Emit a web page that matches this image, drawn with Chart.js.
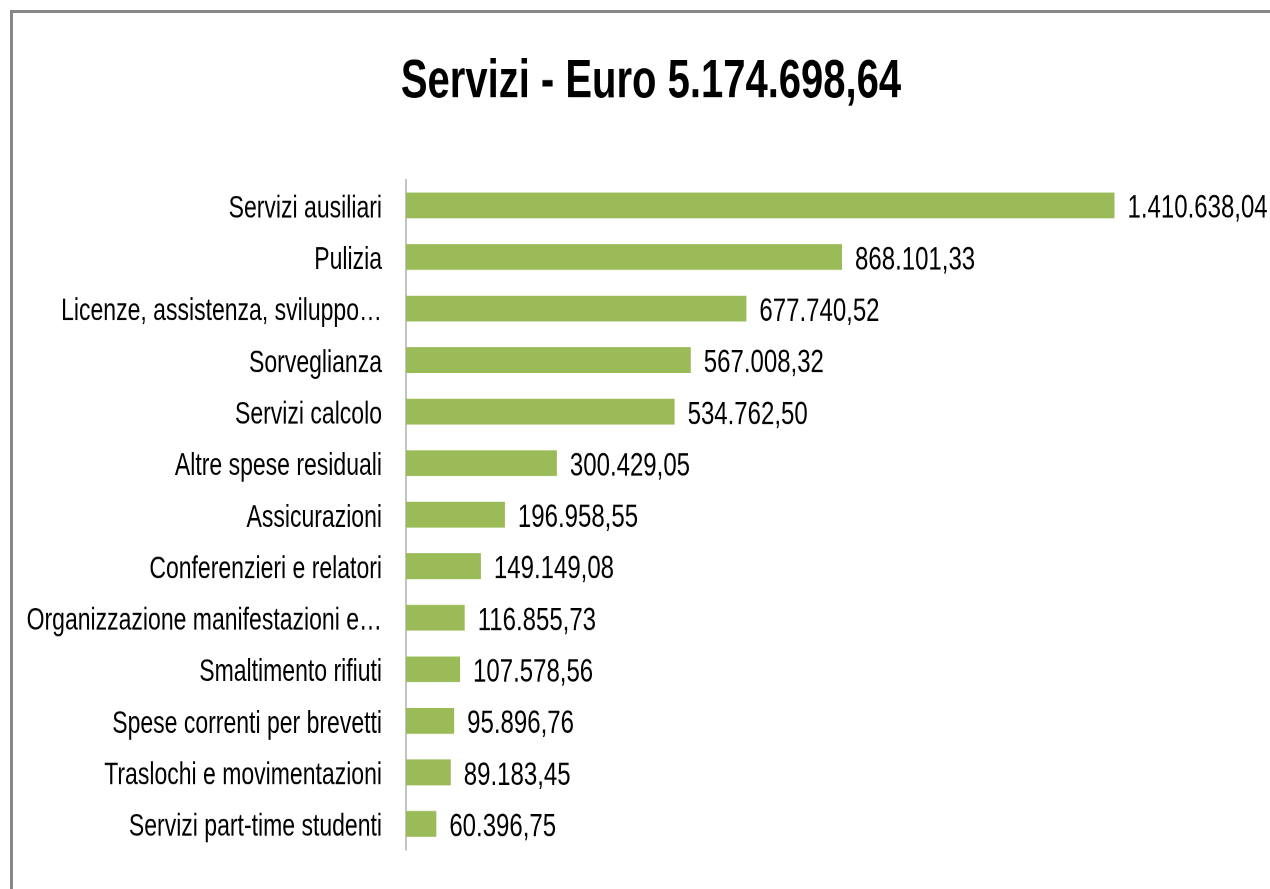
<!DOCTYPE html>
<html>
<head>
<meta charset="utf-8">
<script src="https://cdn.jsdelivr.net/npm/chart.js@4.4.0/dist/chart.umd.min.js"></script>
<style>
html,body{margin:0;padding:0;background:#fff;overflow:hidden;width:1270px;height:889px;}
#frame{position:absolute;left:10px;top:10px;width:1320px;height:920px;border:3px solid #878787;box-sizing:border-box;}
#wrap{position:absolute;left:12px;top:0;width:1278px;height:658.5px;transform:scaleY(1.35);transform-origin:0 0;}
</style>
</head>
<body>
<div id="frame"></div>
<div id="wrap"><canvas id="c"></canvas></div>
<script>
const categories = [
  'Servizi ausiliari',
  'Pulizia',
  'Licenze, assistenza, sviluppo…',
  'Sorveglianza',
  'Servizi calcolo',
  'Altre spese residuali',
  'Assicurazioni',
  'Conferenzieri e relatori',
  'Organizzazione manifestazioni e…',
  'Smaltimento rifiuti',
  'Spese correnti per brevetti',
  'Traslochi e movimentazioni',
  'Servizi part-time studenti'
];
const values = [
  1410638.04,
  868101.33,
  677740.52,
  567008.32,
  534762.50,
  300429.05,
  196958.55,
  149149.08,
  116855.73,
  107578.56,
  95896.76,
  89183.45,
  60396.75
];
const titleText = 'Servizi - Euro 5.174.698,64';
const xMin = 0;
const xMax = 1760000;

const FONT = '"Liberation Sans", Arial, sans-serif';

function fmt(v) {
  const parts = v.toFixed(2).split('.');
  return parts[0].replace(/\B(?=(\d{3})+(?!\d))/g, '.') + ',' + parts[1];
}

const valueLabels = {
  id: 'valueLabels',
  afterDatasetsDraw(chart) {
    const ctx = chart.ctx;
    const meta = chart.getDatasetMeta(0);
    ctx.save();
    ctx.font = '24px ' + FONT;
    ctx.fillStyle = '#000';
    ctx.textAlign = 'left';
    ctx.textBaseline = 'middle';
    meta.data.forEach((bar, i) => {
      ctx.fillText(fmt(values[i]), bar.x + 13, bar.y + 2.5);
    });
    ctx.restore();
  }
};

new Chart(document.getElementById('c'), {
  type: 'bar',
  data: {
    labels: categories,
    datasets: [{
      data: values,
      backgroundColor: '#9BBB59',
      borderWidth: 0,
      barPercentage: 0.5,
      categoryPercentage: 1
    }]
  },
  options: {
    indexAxis: 'y',
    responsive: true,
    maintainAspectRatio: false,
    animation: false,
    devicePixelRatio: 2,
    layout: { padding: { top: 0, left: 0, right: 0, bottom: 29.6 } },
    plugins: {
      legend: { display: false },
      tooltip: { enabled: false },
      title: {
        display: true,
        text: titleText,
        color: '#000',
        font: { family: FONT, size: 40, weight: 'bold' },
        padding: { top: 37, bottom: 48 }
      }
    },
    scales: {
      x: { display: false, min: xMin, max: xMax },
      y: {
        grid: { display: false },
        border: { display: true, color: '#868686', width: 1 },
        ticks: { color: '#000', font: { family: FONT, size: 23 }, padding: 16, labelOffset: 2.5, autoSkip: false },
        afterFit(s) { s.width = 394; s.paddingTop = 0; s.paddingBottom = 0; }
      }
    }
  },
  plugins: [valueLabels]
});
</script>
</body>
</html>
